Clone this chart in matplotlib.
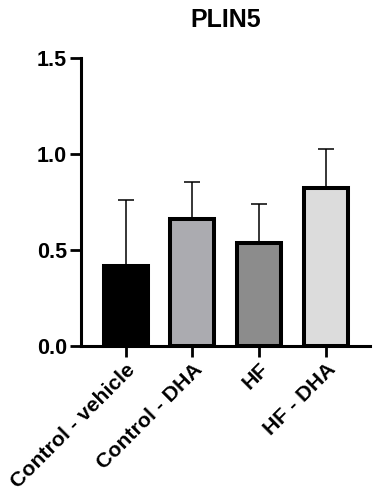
import matplotlib
matplotlib.use("Agg")
import matplotlib.pyplot as plt
import numpy as np

plt.rcParams['font.family'] = ['Liberation Sans', 'DejaVu Sans']
plt.rcParams['font.weight'] = 'bold'

groups = ['Control - vehicle', 'Control - DHA', 'HF', 'HF - DHA']
means = [0.418, 0.661, 0.538, 0.824]
sems = [0.342, 0.192, 0.202, 0.200]
colors = ['#000000', '#ababb0', '#8c8c8c', '#dcdcdc']
yticks = [0.0, 0.5, 1.0, 1.5]

fig = plt.figure(figsize=(3.76, 4.96), dpi=100)
ax = fig.add_axes([0.2154, 0.3024, 0.7686, 0.5806])

x = np.arange(len(groups))
ax.errorbar(x, means, yerr=[np.zeros(len(sems)), sems], fmt='none',
            ecolor='black', elinewidth=1.1, capsize=6, capthick=1.1, zorder=1)
ax.bar(x, means, width=0.66, color=colors, edgecolor='black', linewidth=2.9, zorder=2)

ax.set_xlim(-0.67, 3.66)
ax.set_ylim(0, 1.5)
ax.set_yticks(yticks)
ax.set_yticklabels([f"{t:.1f}" for t in yticks], fontsize=15.5, fontweight='bold')
ax.set_xticks(x)
ax.set_xticklabels(groups, rotation=45, ha='right', rotation_mode='anchor',
                   fontsize=15.3, fontweight='bold')

for side in ['top', 'right']:
    ax.spines[side].set_visible(False)
for side in ['left', 'bottom']:
    ax.spines[side].set_linewidth(2.2)
ax.tick_params(axis='both', width=2.0, length=8, pad=2)

ax.set_title('PLIN5', fontsize=18, fontweight='bold', pad=22)

fig.savefig('out.png', dpi=100)
